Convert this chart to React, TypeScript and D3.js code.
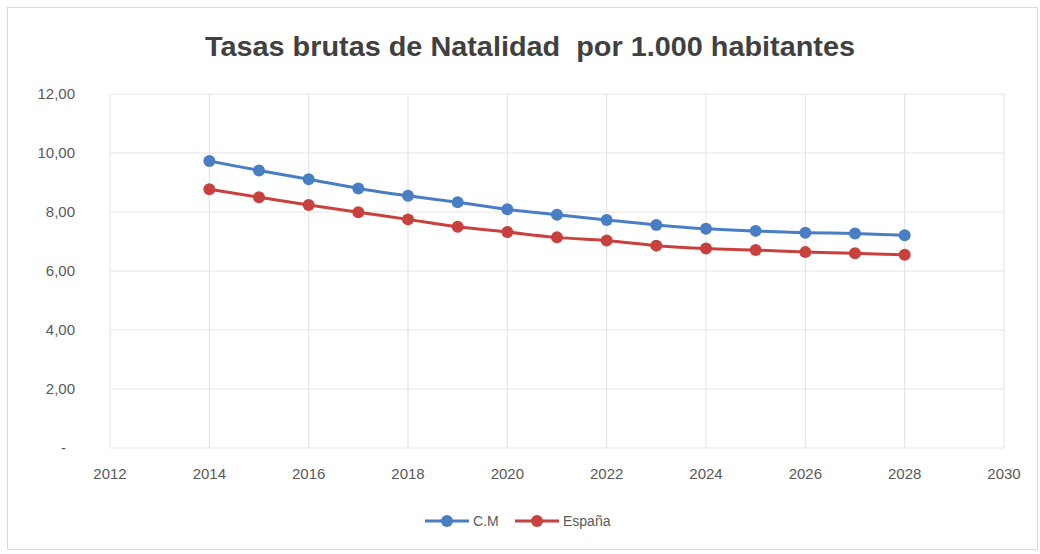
import React, { useEffect, useRef } from "react";
import * as d3 from "d3";

// years and crude birth rates (per 1,000 inhabitants)
const years = [2014, 2015, 2016, 2017, 2018, 2019, 2020, 2021, 2022, 2023, 2024, 2025, 2026, 2027, 2028];
const cmValues = [9.73, 9.41, 9.11, 8.8, 8.55, 8.33, 8.09, 7.91, 7.73, 7.56, 7.43, 7.36, 7.3, 7.27, 7.21];
const espValues = [8.77, 8.5, 8.24, 7.99, 7.75, 7.5, 7.32, 7.14, 7.03, 6.86, 6.76, 6.71, 6.64, 6.6, 6.55];
const seriesNames = ["C.M", "España"];
const seriesColors = ["#4a7ec4", "#c8413e"];
const xTicks = [2012, 2014, 2016, 2018, 2020, 2022, 2024, 2026, 2028, 2030];
const yTicks = [0, 2, 4, 6, 8, 10, 12];
const title = "Tasas brutas de Natalidad  por 1.000 habitantes";

export default function App() {
  const ref = useRef<SVGSVGElement>(null);

  useEffect(() => {
    const width = 1040;
    const height = 554;
    const margin = { top: 94, right: 36, bottom: 106, left: 110 };
    const font = "'Liberation Sans', Arial, sans-serif";

    const svg = d3.select(ref.current);
    svg.selectAll("*").remove();

    // chart frame
    svg.append("rect")
      .attr("x", 7.5).attr("y", 7.5)
      .attr("width", width - 10).attr("height", height - 12)
      .attr("fill", "#fff").attr("stroke", "#d9d9d9");

    const x = d3.scaleLinear().domain([2012, 2030]).range([margin.left, width - margin.right]);
    const y = d3.scaleLinear().domain([0, 12]).range([height - margin.bottom, margin.top]);

    // grid
    svg.append("g").selectAll("line.h").data(yTicks).enter().append("line")
      .attr("x1", x(2012)).attr("x2", x(2030))
      .attr("y1", d => y(d)).attr("y2", d => y(d))
      .attr("stroke", "#e6e6e6").attr("stroke-width", 1.2);
    svg.append("g").selectAll("line.v").data(xTicks).enter().append("line")
      .attr("x1", d => x(d)).attr("x2", d => x(d))
      .attr("y1", y(12)).attr("y2", y(0))
      .attr("stroke", "#e6e6e6").attr("stroke-width", 1.2);

    // y labels
    const fmt = (v: number) => (v === 0 ? "-" : v.toFixed(2).replace(".", ","));
    svg.append("g").selectAll("text").data(yTicks).enter().append("text")
      .attr("x", d => (d === 0 ? 66 : 75)).attr("y", d => y(d))
      .attr("dy", "0.35em").attr("text-anchor", "end")
      .style("font", `15px ${font}`).attr("fill", "#595959")
      .text(fmt);

    // x labels
    svg.append("g").selectAll("text").data(xTicks).enter().append("text")
      .attr("x", d => x(d)).attr("y", 479)
      .attr("text-anchor", "middle")
      .style("font", `15px ${font}`).attr("fill", "#595959")
      .text(d => d);

    // title
    svg.append("text")
      .attr("x", 530).attr("y", 56).attr("text-anchor", "middle")
      .style("font", `bold 27px ${font}`).style("white-space", "pre")
      .attr("textLength", 650).attr("lengthAdjust", "spacingAndGlyphs")
      .attr("fill", "#404040")
      .text(title);

    // series
    const allSeries = [cmValues, espValues];
    const line = d3.line<number>()
      .x((_, i) => x(years[i]))
      .y(d => y(d))
      .curve(d3.curveCatmullRom);

    allSeries.forEach((vals, si) => {
      svg.append("path").datum(vals)
        .attr("d", line)
        .attr("fill", "none")
        .attr("stroke", seriesColors[si])
        .attr("stroke-width", 3);
      svg.append("g").selectAll("circle").data(vals).enter().append("circle")
        .attr("cx", (_, i) => x(years[i])).attr("cy", d => y(d))
        .attr("r", 6).attr("fill", seriesColors[si]);
    });

    // legend
    const legend = svg.append("g").attr("transform", "translate(425,521)");
    const offsets = [0, 90];
    seriesNames.forEach((name, i) => {
      const g = legend.append("g").attr("transform", `translate(${offsets[i]},0)`);
      g.append("line").attr("x1", 0).attr("x2", 44).attr("y1", 0).attr("y2", 0)
        .attr("stroke", seriesColors[i]).attr("stroke-width", 3);
      g.append("circle").attr("cx", 22).attr("cy", 0).attr("r", 6).attr("fill", seriesColors[i]);
      g.append("text").attr("x", 48).attr("y", 0).attr("dy", "0.35em")
        .style("font", `14px ${font}`).attr("fill", "#595959")
        .text(name);
    });
  }, []);

  return (
    <svg ref={ref} width={1040} height={554}
      style={{ position: "absolute", left: 0, top: 0, background: "#fff" }} />
  );
}
